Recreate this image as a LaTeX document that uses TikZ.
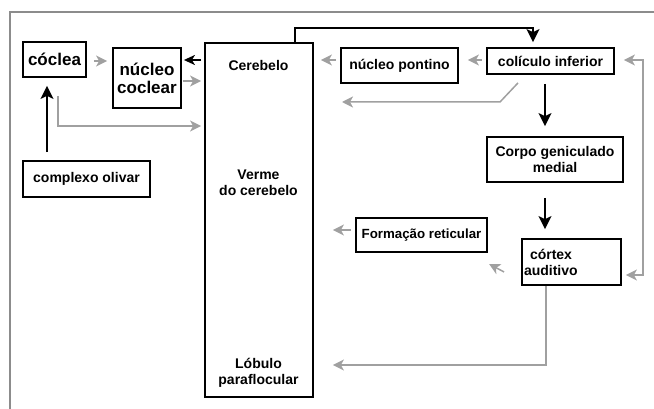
\documentclass[tikz,border=0pt]{standalone}
\usepackage{fontspec}
\setmainfont{Liberation Sans}
\usetikzlibrary{arrows.meta,positioning}
\definecolor{lightgrey}{RGB}{160,160,160}
\definecolor{framegrey}{RGB}{140,140,140}

\begin{document}
\begin{tikzpicture}[x=1pt,y=-1pt,
    >={Stealth[length=11pt,width=11pt,inset=3pt]},
    box/.style={draw,line width=1.8pt,inner sep=2pt,
                font=\bfseries\fontsize{14}{16}\selectfont,align=center},
    bigbox/.style={box,font=\bfseries\fontsize{17}{18}\selectfont},
    lbl/.style={font=\bfseries\fontsize{14}{16}\selectfont,align=center},
    blkarr/.style={line width=1.8pt,-{Stealth[length=13pt,width=13pt,inset=3pt]}},
    gryarr/.style={draw=lightgrey,line width=1.5pt,->},
    gryboth/.style={draw=lightgrey,line width=1.5pt,<->}]

    \useasboundingbox (0,0) rectangle (654,409);
    \draw[framegrey,line width=1.5pt] (10,409) -- (10,12) -- (654,12);

    \node[bigbox,minimum width=63pt,minimum height=35pt] (coclea) at (54.5,59.5)
      {cóclea};
    \node[bigbox,minimum width=68pt,minimum height=60pt] (nucleoc) at (147,78)
      {núcleo\\coclear};
    \node[draw,line width=1.8pt,minimum width=108pt,minimum height=354pt] (cereb) at (259,220) {};
    \node[lbl] (cerebtxt) at (258.5,65) {Cerebelo};
    \node[lbl] (verme) at (258.5,182.5) {Verme\\do cerebelo};
    \node[lbl] (lobulo) at (258.5,373) {Lóbulo\\paraflocular};
    \node[box,minimum width=127pt,minimum height=36pt] (olivar) at (86.5,179)
      {complexo olivar};
    \node[box,minimum width=117pt,minimum height=35pt] (pontino) at (399.5,65.5)
      {núcleo pontino};
    \node[box,minimum width=127pt,minimum height=26pt] (colic) at (550.5,61)
      {colículo inferior};
    \node[box,minimum width=136pt,minimum height=45pt] (corpo) at (555,159.5)
      {Corpo geniculado\\medial};
    \node[box,minimum width=131pt,minimum height=34pt,
          font=\bfseries\fontsize{13.3}{16}\selectfont] (formacao) at (421.5,235)
      {Formação reticular};
    \node[box,text width=95pt,minimum height=46pt,align=left] (cortex) at (571.5,262)
      {\hspace*{6pt}córtex\\auditivo};
    \coordinate (ciend) at (342,102);

    \draw[blkarr,shorten <=8pt,shorten >=8pt] (olivar.north -| 47,0) -- (coclea.south -| 47,0);
    \draw[gryarr,shorten <=7pt,shorten >=5pt] (coclea.east |- 0,61) -- (nucleoc.west |- 0,61);
    \draw[line width=1.8pt,-{Stealth[length=11pt,width=10pt,inset=3pt]},shorten <=3pt,shorten >=2pt]
      (cereb.west |- 0,60) -- (nucleoc.east |- 0,60);
    \draw[gryarr,shorten <=1pt,shorten >=3pt] (nucleoc.east |- 0,81) -- (cereb.west |- 0,81);
    \draw[gryarr,shorten >=3pt] ([shift={(3.5,18)}]coclea.south) |- (cereb.west |- 0,126);
    \draw[blkarr,shorten >=5pt] (cereb.north -| 295,0) -- (295,28) -| (colic.north -| 533,0);
    \draw[gryarr,shorten <=4pt,shorten >=7pt] (pontino.west |- 0,60) -- (cereb.east |- 0,60);
    \draw[gryarr,shorten <=4pt,shorten >=9pt] (colic.west |- 0,60) -- (pontino.east |- 0,60);
    \draw[gryarr] ([shift={(-32.5,8)}]colic.south) -- (500,102) -- (ciend);
    \draw[blkarr,shorten <=9pt,shorten >=10pt] (colic.south -| 545,0) -- (corpo.north -| 545,0);
    \draw[blkarr,shorten <=15pt,shorten >=9pt] (corpo.south -| 545,0) -- (cortex.north -| 545,0);
    \draw[gryboth,shorten <=9pt,shorten >=4pt] (colic.east |- 0,60) -| (643,275) -- (cortex.east |- 0,275);
    \draw[gryarr,shorten <=4pt,shorten >=19pt] (formacao.west |- 0,230) -- (cereb.east |- 0,230);
    \draw[gryarr] ([shift={(-17,10)}]cortex.west) -- ([shift={(-32,2)}]cortex.west);
    \draw[gryarr,shorten >=19pt] (cortex.south -| 546,0) |- (cereb.east |- 0,365);
  \end{tikzpicture}
\end{document}
